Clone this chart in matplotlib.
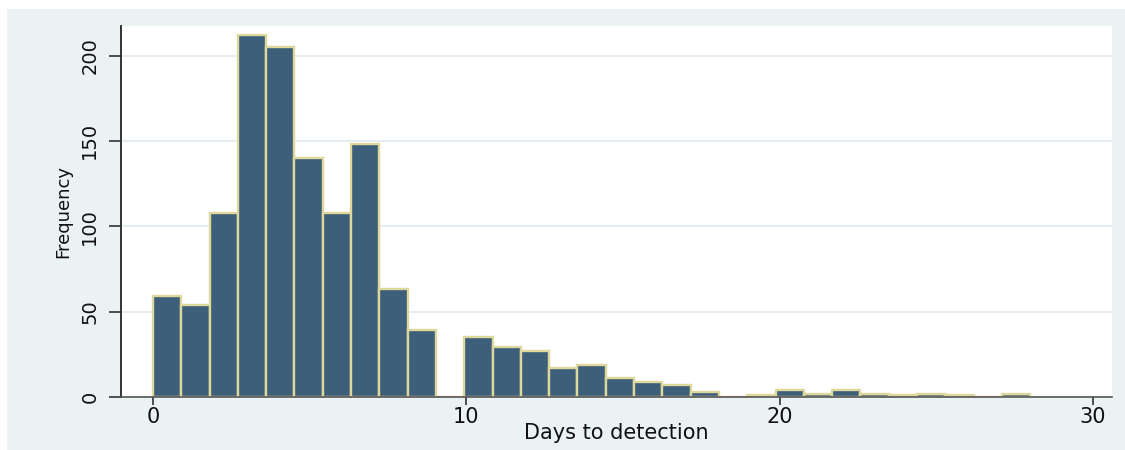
import matplotlib.pyplot as plt
import numpy as np

# Stata-style histogram: 31 bins over 0..28 days
bin_start = 0
bin_end = 28
counts = [59, 54, 108, 212, 205, 140, 108, 148, 63, 39,
          0, 35, 29, 27, 17, 19, 11, 9, 7, 3,
          0, 1, 4, 2, 4, 2, 1, 2, 1, 0, 2]
x_ticks = [0, 10, 20, 30]
y_ticks = [0, 50, 100, 150, 200]

edges = np.linspace(bin_start, bin_end, len(counts) + 1)
width = edges[1] - edges[0]

fig = plt.figure(figsize=(11.25, 4.5), dpi=100)
fig.patch.set_facecolor("white")

# light graph-region background (Stata s2color look)
bg = fig.add_axes([7 / 1125, 0, 1 - 7 / 1125, (450 - 9) / 450])
bg.set_facecolor("#EAF2F3")
bg.set_xticks([])
bg.set_yticks([])
for s in bg.spines.values():
    s.set_visible(False)
bg.set_zorder(-1)

ax = fig.add_axes([121 / 1125, 53 / 450, (1112 - 121) / 1125, (397 - 25.5) / 450])
ax.set_facecolor("white")

ax.bar(edges[:-1], counts, width=width, align="edge",
       color="#3D5F7A", edgecolor="#DFD89C", linewidth=1.7, zorder=3)

ax.set_xlim(-1.02, 30.61)
ax.set_ylim(0, 217.6)
ax.set_xticks(x_ticks)
ax.set_yticks(y_ticks)
ax.set_yticklabels([str(v) for v in y_ticks], rotation=90, va="center")

ax.grid(axis="y", color="#E4EEF2", linewidth=1.4, zorder=0)
ax.grid(axis="x", visible=False)
for side in ["top", "right"]:
    ax.spines[side].set_visible(False)
ax.spines["left"].set_color("#333333")
ax.spines["left"].set_linewidth(1.4)
ax.spines["bottom"].set_color("#555555")
ax.spines["bottom"].set_linewidth(1.2)
ax.spines["bottom"].set_zorder(4)

ax.tick_params(axis="y", length=8.6, width=1.2, color="#333333", pad=7,
               labelsize=14, labelcolor="#111111")
ax.tick_params(axis="x", length=6, width=1.2, color="#333333", pad=1.5,
               labelsize=15, labelcolor="#111111")

ax.set_xlabel("Days to detection", fontsize=15, color="#111111", labelpad=-3)
ax.set_ylabel("Frequency", fontsize=13, color="#111111", labelpad=6)

plt.savefig("out.png", dpi=100)
